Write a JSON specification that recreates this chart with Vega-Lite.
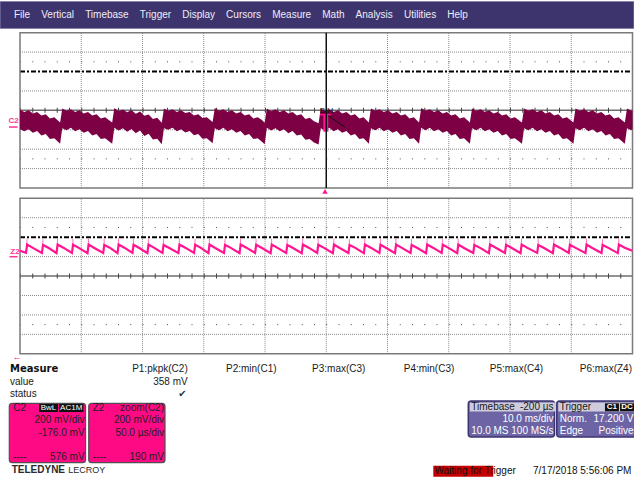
{
"$schema":"https://vega.github.io/schema/vega-lite/v6.json",
"width":634,"height":480,"padding":0,"autosize":{"type":"none"},"background":"white",
"config":{"view":{"stroke":null},"axis":{"disable":true},"legend":{"disable":true},"text":{"font":"Liberation Sans","fontSize":10,"baseline":"middle"}},
"data":{"values":[{}]},
"datasets":{
"c2":[{"t":-50,"hi":0.04,"lo":-0.98},{"t":-49.3,"hi":-0.08,"lo":-1.08},{"t":-48.6,"hi":0,"lo":-0.98},{"t":-47.9,"hi":-0.16,"lo":-1.16},{"t":-47.2,"hi":-0.08,"lo":-1.06},{"t":-46.5,"hi":-0.26,"lo":-1.3},{"t":-45.8,"hi":-0.2,"lo":-1.22},{"t":-45.1,"hi":-0.42,"lo":-1.48},{"t":-44.4,"hi":-0.36,"lo":-1.44},{"t":-43.45,"hi":-0.62,"lo":-1.72},
{"t":-43.1,"hi":0.1,"lo":-0.92},{"t":-42.4,"hi":-0.02,"lo":-1.02},{"t":-41.7,"hi":0.06,"lo":-0.9},{"t":-41,"hi":-0.08,"lo":-1.08},{"t":-40.3,"hi":0,"lo":-0.98},{"t":-39.6,"hi":-0.16,"lo":-1.16},{"t":-38.9,"hi":-0.08,"lo":-1.06},{"t":-38.2,"hi":-0.26,"lo":-1.3},{"t":-37.5,"hi":-0.2,"lo":-1.22},{"t":-36.8,"hi":-0.42,"lo":-1.48},{"t":-36.1,"hi":-0.36,"lo":-1.44},{"t":-34.95,"hi":-0.62,"lo":-1.72},
{"t":-34.6,"hi":0.12,"lo":-0.9},{"t":-33.9,"hi":-0.04,"lo":-1.04},{"t":-33.2,"hi":0.04,"lo":-0.92},{"t":-32.5,"hi":-0.1,"lo":-1.1},{"t":-31.8,"hi":0.02,"lo":-0.96},{"t":-31.1,"hi":-0.18,"lo":-1.18},{"t":-30.4,"hi":-0.06,"lo":-1.04},{"t":-29.7,"hi":-0.28,"lo":-1.32},{"t":-29,"hi":-0.22,"lo":-1.2},{"t":-28.3,"hi":-0.44,"lo":-1.5},{"t":-27.6,"hi":-0.38,"lo":-1.46},{"t":-26.85,"hi":-0.64,"lo":-1.74},
{"t":-26.5,"hi":0.1,"lo":-0.92},{"t":-25.8,"hi":-0.02,"lo":-1},{"t":-25.1,"hi":0.06,"lo":-0.9},{"t":-24.4,"hi":-0.08,"lo":-1.08},{"t":-23.7,"hi":0,"lo":-0.98},{"t":-23,"hi":-0.14,"lo":-1.14},{"t":-22.3,"hi":-0.08,"lo":-1.06},{"t":-21.6,"hi":-0.26,"lo":-1.28},{"t":-20.9,"hi":-0.2,"lo":-1.22},{"t":-20.2,"hi":-0.4,"lo":-1.46},{"t":-19.5,"hi":-0.36,"lo":-1.44},{"t":-18.55,"hi":-0.6,"lo":-1.7},
{"t":-18.2,"hi":0.12,"lo":-0.92},{"t":-17.5,"hi":-0.02,"lo":-1.02},{"t":-16.8,"hi":0.06,"lo":-0.9},{"t":-16.1,"hi":-0.08,"lo":-1.08},{"t":-15.4,"hi":0,"lo":-0.98},{"t":-14.7,"hi":-0.16,"lo":-1.16},{"t":-14,"hi":-0.08,"lo":-1.06},{"t":-13.3,"hi":-0.26,"lo":-1.3},{"t":-12.6,"hi":-0.2,"lo":-1.22},{"t":-11.9,"hi":-0.42,"lo":-1.48},{"t":-11.2,"hi":-0.36,"lo":-1.44},{"t":-10.5,"hi":-0.5,"lo":-1.62},{"t":-10.05,"hi":-0.64,"lo":-1.74},
{"t":-9.7,"hi":0.1,"lo":-0.9},{"t":-9,"hi":-0.04,"lo":-1.04},{"t":-8.3,"hi":0.06,"lo":-0.92},{"t":-7.6,"hi":-0.08,"lo":-1.08},{"t":-6.9,"hi":0,"lo":-0.98},{"t":-6.2,"hi":-0.16,"lo":-1.18},{"t":-5.5,"hi":-0.08,"lo":-1.06},{"t":-4.8,"hi":-0.26,"lo":-1.3},{"t":-4.1,"hi":-0.2,"lo":-1.24},{"t":-3.4,"hi":-0.44,"lo":-1.52},{"t":-2.7,"hi":-0.38,"lo":-1.48},{"t":-2,"hi":-0.56,"lo":-1.66},{"t":-1.25,"hi":-0.66,"lo":-1.76},
{"t":-0.9,"hi":0.1,"lo":-0.92},{"t":-0.2,"hi":-0.02,"lo":-1.02},{"t":0.5,"hi":0.06,"lo":-0.9},{"t":1.2,"hi":-0.08,"lo":-1.08},{"t":1.9,"hi":0,"lo":-0.98},{"t":2.6,"hi":-0.16,"lo":-1.16},{"t":3.3,"hi":-0.08,"lo":-1.06},{"t":4,"hi":-0.26,"lo":-1.3},{"t":4.7,"hi":-0.2,"lo":-1.22},{"t":5.4,"hi":-0.42,"lo":-1.48},{"t":6.1,"hi":-0.36,"lo":-1.44},{"t":6.95,"hi":-0.62,"lo":-1.72},
{"t":7.3,"hi":0.1,"lo":-0.92},{"t":8,"hi":-0.02,"lo":-1.02},{"t":8.7,"hi":0.06,"lo":-0.9},{"t":9.4,"hi":-0.08,"lo":-1.08},{"t":10.1,"hi":0,"lo":-0.98},{"t":10.8,"hi":-0.16,"lo":-1.16},{"t":11.5,"hi":-0.08,"lo":-1.06},{"t":12.2,"hi":-0.26,"lo":-1.3},{"t":12.9,"hi":-0.2,"lo":-1.22},{"t":13.6,"hi":-0.42,"lo":-1.48},{"t":14.3,"hi":-0.36,"lo":-1.44},{"t":15.15,"hi":-0.62,"lo":-1.72},
{"t":15.5,"hi":0.12,"lo":-0.9},{"t":16.2,"hi":-0.02,"lo":-1.02},{"t":16.9,"hi":0.06,"lo":-0.9},{"t":17.6,"hi":-0.08,"lo":-1.08},{"t":18.3,"hi":0,"lo":-0.98},{"t":19,"hi":-0.16,"lo":-1.16},{"t":19.7,"hi":-0.08,"lo":-1.06},{"t":20.4,"hi":-0.26,"lo":-1.3},{"t":21.1,"hi":-0.2,"lo":-1.22},{"t":21.8,"hi":-0.42,"lo":-1.48},{"t":22.5,"hi":-0.36,"lo":-1.44},{"t":23.45,"hi":-0.62,"lo":-1.72},
{"t":23.8,"hi":0.1,"lo":-0.92},{"t":24.5,"hi":-0.02,"lo":-1.02},{"t":25.2,"hi":0.06,"lo":-0.9},{"t":25.9,"hi":-0.08,"lo":-1.08},{"t":26.6,"hi":0,"lo":-0.98},{"t":27.3,"hi":-0.16,"lo":-1.16},{"t":28,"hi":-0.08,"lo":-1.06},{"t":28.7,"hi":-0.26,"lo":-1.3},{"t":29.4,"hi":-0.2,"lo":-1.22},{"t":30.1,"hi":-0.42,"lo":-1.48},{"t":30.8,"hi":-0.36,"lo":-1.44},{"t":31.95,"hi":-0.62,"lo":-1.72},
{"t":32.3,"hi":0.1,"lo":-0.92},{"t":33,"hi":-0.02,"lo":-1.02},{"t":33.7,"hi":0.06,"lo":-0.9},{"t":34.4,"hi":-0.08,"lo":-1.08},{"t":35.1,"hi":0,"lo":-0.98},{"t":35.8,"hi":-0.16,"lo":-1.16},{"t":36.5,"hi":-0.08,"lo":-1.06},{"t":37.2,"hi":-0.26,"lo":-1.3},{"t":37.9,"hi":-0.2,"lo":-1.22},{"t":38.6,"hi":-0.42,"lo":-1.48},{"t":39.3,"hi":-0.36,"lo":-1.44},{"t":40.35,"hi":-0.62,"lo":-1.72},
{"t":40.7,"hi":0.1,"lo":-0.92},{"t":41.4,"hi":-0.02,"lo":-1.02},{"t":42.1,"hi":0.06,"lo":-0.9},{"t":42.8,"hi":-0.08,"lo":-1.08},{"t":43.5,"hi":0,"lo":-0.98},{"t":44.2,"hi":-0.16,"lo":-1.16},{"t":44.9,"hi":-0.08,"lo":-1.06},{"t":45.6,"hi":-0.26,"lo":-1.3},{"t":46.3,"hi":-0.2,"lo":-1.22},{"t":47,"hi":-0.42,"lo":-1.48},{"t":47.7,"hi":-0.36,"lo":-1.44},{"t":48.75,"hi":-0.62,"lo":-1.72},
{"t":49.1,"hi":0.1,"lo":-0.92},{"t":49.8,"hi":-0.02,"lo":-1.02},{"t":50,"hi":0.02,"lo":-0.96}],
"z2":[{"t":-250,"v":1.3},{"t":-245.1,"v":1.2},{"t":-244.2,"v":1.62},{"t":-239.5,"v":1.45},{"t":-232.1,"v":1.19},{"t":-231.2,"v":1.6},{"t":-226.5,"v":1.44},{"t":-220.2,"v":1.18},{"t":-219.3,"v":1.62},{"t":-214.6,"v":1.46},{"t":-207.6,"v":1.19},{"t":-206.7,"v":1.61},{"t":-202,"v":1.45},{"t":-194.9,"v":1.18},{"t":-194,"v":1.62},{"t":-189.3,"v":1.44},{"t":-182.1,"v":1.19},{"t":-181.2,"v":1.6},{"t":-176.5,"v":1.45},{"t":-170.4,"v":1.18},{"t":-169.5,"v":1.62},{"t":-164.8,"v":1.46},{"t":-158.2,"v":1.19},{"t":-157.3,"v":1.61},{"t":-152.6,"v":1.44},{"t":-146,"v":1.18},{"t":-145.1,"v":1.62},{"t":-140.4,"v":1.45},{"t":-133.7,"v":1.19},{"t":-132.8,"v":1.6},{"t":-128.1,"v":1.44},{"t":-120.7,"v":1.18},{"t":-119.8,"v":1.62},{"t":-115.1,"v":1.46},{"t":-107.9,"v":1.19},{"t":-107,"v":1.61},{"t":-102.3,"v":1.45},{"t":-96.2,"v":1.18},{"t":-95.3,"v":1.62},{"t":-90.6,"v":1.44},{"t":-83.5,"v":1.19},{"t":-82.6,"v":1.6},{"t":-77.9,"v":1.45},{"t":-70.8,"v":1.18},{"t":-69.9,"v":1.62},{"t":-65.2,"v":1.46},{"t":-58.1,"v":1.19},{"t":-57.2,"v":1.61},{"t":-52.5,"v":1.44},{"t":-45.4,"v":1.18},{"t":-44.5,"v":1.62},{"t":-39.8,"v":1.45},{"t":-32.7,"v":1.19},{"t":-31.8,"v":1.6},{"t":-27.1,"v":1.44},{"t":-20,"v":1.18},{"t":-19.1,"v":1.62},{"t":-14.4,"v":1.46},{"t":-7.4,"v":1.19},{"t":-6.5,"v":1.61},{"t":-1.8,"v":1.45},{"t":5.4,"v":1.18},{"t":6.3,"v":1.62},{"t":11,"v":1.44},{"t":18.1,"v":1.19},{"t":19,"v":1.6},{"t":23.7,"v":1.45},{"t":30.7,"v":1.18},{"t":31.6,"v":1.62},{"t":36.3,"v":1.46},{"t":43.4,"v":1.19},{"t":44.3,"v":1.61},{"t":49,"v":1.44},{"t":56.1,"v":1.18},{"t":57,"v":1.62},{"t":61.7,"v":1.45},{"t":68.8,"v":1.19},{"t":69.7,"v":1.6},{"t":74.4,"v":1.44},{"t":81.5,"v":1.18},{"t":82.4,"v":1.62},{"t":87.1,"v":1.46},{"t":94.2,"v":1.19},{"t":95.1,"v":1.61},{"t":99.8,"v":1.45},{"t":106.9,"v":1.18},{"t":107.8,"v":1.62},{"t":112.5,"v":1.44},{"t":120,"v":1.19},{"t":120.9,"v":1.6},{"t":125.6,"v":1.45},{"t":132.8,"v":1.18},{"t":133.7,"v":1.62},{"t":138.4,"v":1.46},{"t":145.9,"v":1.19},{"t":146.8,"v":1.61},{"t":151.5,"v":1.44},{"t":158.6,"v":1.18},{"t":159.5,"v":1.62},{"t":164.2,"v":1.45},{"t":172.2,"v":1.19},{"t":173.1,"v":1.6},{"t":177.8,"v":1.44},{"t":185,"v":1.18},{"t":185.9,"v":1.62},{"t":190.6,"v":1.46},{"t":198,"v":1.19},{"t":198.9,"v":1.61},{"t":203.6,"v":1.45},{"t":211.6,"v":1.18},{"t":212.5,"v":1.62},{"t":217.2,"v":1.44},{"t":224.7,"v":1.19},{"t":225.6,"v":1.6},{"t":230.3,"v":1.45},{"t":238,"v":1.18},{"t":238.9,"v":1.62},{"t":243.6,"v":1.46},{"t":250,"v":1.3}],
"z2pk":[{"t":-244.3,"top":1.92},{"t":-231.3,"top":1.9},{"t":-219.4,"top":1.93},{"t":-206.8,"top":1.91},{"t":-194.1,"top":1.92},{"t":-181.3,"top":1.9},{"t":-169.6,"top":1.93},{"t":-157.4,"top":1.91},{"t":-145.2,"top":1.92},{"t":-132.9,"top":1.9},{"t":-119.9,"top":1.93},{"t":-107.1,"top":1.91},{"t":-95.4,"top":1.92},{"t":-82.7,"top":1.9},{"t":-70,"top":1.93},{"t":-57.3,"top":1.91},{"t":-44.6,"top":1.92},{"t":-31.9,"top":1.9},{"t":-19.2,"top":1.93},{"t":-6.6,"top":1.91},{"t":6.2,"top":1.92},{"t":18.9,"top":1.9},{"t":31.5,"top":1.93},{"t":44.2,"top":1.91},{"t":56.9,"top":1.92},{"t":69.6,"top":1.9},{"t":82.3,"top":1.93},{"t":95,"top":1.91},{"t":107.7,"top":1.92},{"t":120.8,"top":1.9},{"t":133.6,"top":1.93},{"t":146.7,"top":1.91},{"t":159.4,"top":1.92},{"t":173,"top":1.9},{"t":185.8,"top":1.93},{"t":198.8,"top":1.91},{"t":212.4,"top":1.92},{"t":225.5,"top":1.9},{"t":238.8,"top":1.93}]
},
"resolve":{"scale":{"x":"independent","y":"independent"}},
"layer":[
{"data":{"values":[{"bar":"menu","label":"File\u00a0\u00a0\u00a0\u00a0Vertical\u00a0\u00a0\u00a0\u00a0Timebase\u00a0\u00a0\u00a0\u00a0Trigger\u00a0\u00a0\u00a0\u00a0Display\u00a0\u00a0\u00a0\u00a0Cursors\u00a0\u00a0\u00a0\u00a0Measure\u00a0\u00a0\u00a0\u00a0Math\u00a0\u00a0\u00a0\u00a0Analysis\u00a0\u00a0\u00a0\u00a0Utilities\u00a0\u00a0\u00a0\u00a0Help"}]},
 "layer":[
  {"mark":{"type":"rect","color":"#3d336d","stroke":"#8a83b0","strokeWidth":1},
   "encoding":{"y":{"field":"bar","type":"nominal","scale":{"type":"band","domain":["menu"],"range":[1.5,28.5],"paddingInner":0,"paddingOuter":0}}}},
  {"mark":{"type":"text","align":"left","baseline":"middle","color":"#eeeef6","fontSize":10},
   "encoding":{"x":{"field":"bar","type":"nominal","bandPosition":0,"scale":{"type":"band","domain":["menu"],"range":[14,634],"paddingInner":0,"paddingOuter":0}},
    "y":{"field":"bar","type":"nominal","bandPosition":0.5,"scale":{"type":"band","domain":["menu"],"range":[1.5,28.5],"paddingInner":0,"paddingOuter":0}},
    "text":{"field":"label"}}}
 ]},
{"layer":[
  {"data":{"values":[{"t":-40},{"t":-30},{"t":-20},{"t":-10},{"t":10},{"t":20},{"t":30},{"t":40}]},
   "mark":{"type":"rule","color":"#8a8a8a","strokeDash":[1,1],"strokeWidth":1},
   "encoding":{"x":{"field":"t","type":"quantitative","scale":{"domain":[-50,50],"range":[20,632.5],"nice":false,"zero":false}},"y":{"datum":-4,"type":"quantitative","scale":{"domain":[-4,4],"range":[188,32.7],"nice":false,"zero":false}},"y2":{"datum":4}}},
  {"data":{"values":[{"d":3},{"d":1},{"d":-1},{"d":-2},{"d":-3}]},
   "mark":{"type":"rule","color":"#8a8a8a","strokeDash":[1,1],"strokeWidth":1},
   "encoding":{"y":{"field":"d","type":"quantitative","scale":{"domain":[-4,4],"range":[188,32.7],"nice":false,"zero":false}},"x":{"datum":-50,"type":"quantitative","scale":{"domain":[-50,50],"range":[20,632.5],"nice":false,"zero":false}},"x2":{"datum":50}}},
  {"data":{"values":[{"d":2.5},{"d":-2.5}]},
   "mark":{"type":"rule","color":"#555555","strokeDash":[1,11.25],"strokeWidth":1},
   "encoding":{"y":{"field":"d","type":"quantitative"},"x":{"datum":-50,"type":"quantitative"},"x2":{"datum":50}}},
  {"mark":{"type":"rule","color":"#000000","strokeDash":[5,2,2,2],"strokeWidth":2},
   "encoding":{"y":{"datum":2,"type":"quantitative"},"x":{"datum":-50,"type":"quantitative"},"x2":{"datum":50}}},
  {"mark":{"type":"rule","color":"#6e6e6e","strokeWidth":1.5},
   "encoding":{"y":{"datum":0,"type":"quantitative"},"x":{"datum":-50,"type":"quantitative"},"x2":{"datum":50}}},
  {"mark":{"type":"rule","color":"#444444","strokeDash":[1,11.25],"strokeWidth":5},
   "encoding":{"y":{"datum":0,"type":"quantitative"},"x":{"datum":-50,"type":"quantitative"},"x2":{"datum":50}}},
  {"mark":{"type":"rect","fillOpacity":0,"stroke":"#7a7a7a","strokeWidth":1.5},
   "encoding":{"x":{"datum":-50,"type":"quantitative"},"x2":{"datum":50},"y":{"datum":-4,"type":"quantitative"},"y2":{"datum":4}}},
  {"data":{"name":"c2"},"mark":{"type":"area","color":"#7d0045","opacity":1},
   "encoding":{"x":{"field":"t","type":"quantitative"},"y":{"field":"hi","type":"quantitative"},"y2":{"field":"lo"}}},
  {"mark":{"type":"text","text":"C2","color":"#ff3399","fontSize":8,"fontWeight":"bold","align":"center"},
   "encoding":{"x":{"datum":-51.06,"type":"quantitative"},"y":{"datum":-0.57,"type":"quantitative"}}},
  {"mark":{"type":"rule","color":"#ff3399","strokeWidth":1.5},
   "encoding":{"x":{"datum":-51.8,"type":"quantitative"},"x2":{"datum":-50.4},"y":{"datum":-0.86,"type":"quantitative"}}},
  {"mark":{"type":"point","shape":"triangle-up","filled":true,"size":30,"color":"#ff1493","opacity":1},
   "encoding":{"x":{"datum":-0.2,"type":"quantitative"},"y":{"datum":-4.18,"type":"quantitative"}}},
  {"mark":{"type":"rect","color":"#ff1493"},
   "encoding":{"x":{"datum":-0.48,"type":"quantitative"},"x2":{"datum":0.33},"y":{"datum":-0.24,"type":"quantitative"},"y2":{"datum":-1.1}}},
  {"mark":{"type":"rule","color":"#ff1493","strokeWidth":1.5},
   "encoding":{"x":{"datum":-1.02,"type":"quantitative"},"x2":{"datum":0.73},"y":{"datum":-0.22,"type":"quantitative"}}},
  {"mark":{"type":"rule","color":"#111111","strokeWidth":1},
   "encoding":{"x":{"datum":0.33,"type":"quantitative"},"x2":{"datum":3.06},"y":{"datum":-0.28,"type":"quantitative"},"y2":{"datum":-0.87}}},
  {"mark":{"type":"rule","color":"#111111","strokeWidth":1.5},
   "encoding":{"x":{"datum":0,"type":"quantitative"},"y":{"datum":-4,"type":"quantitative"},"y2":{"datum":4}}},
  {"mark":{"type":"text","text":"B H","color":"#111111","fontSize":8,"align":"center"},
   "encoding":{"x":{"datum":0.04,"type":"quantitative"},"y":{"datum":-0.02,"type":"quantitative"}}}
 ]},
{"layer":[
  {"data":{"values":[{"t":-200},{"t":-150},{"t":-100},{"t":-50},{"t":0},{"t":50},{"t":100},{"t":150},{"t":200}]},
   "mark":{"type":"rule","color":"#8a8a8a","strokeDash":[1,1],"strokeWidth":1},
   "encoding":{"x":{"field":"t","type":"quantitative","scale":{"domain":[-250,250],"range":[20,632.5],"nice":false,"zero":false}},"y":{"datum":-4,"type":"quantitative","scale":{"domain":[-4,4],"range":[353.8,198.3],"nice":false,"zero":false}},"y2":{"datum":4}}},
  {"data":{"values":[{"d":3},{"d":1},{"d":-1},{"d":-2},{"d":-3}]},
   "mark":{"type":"rule","color":"#8a8a8a","strokeDash":[1,1],"strokeWidth":1},
   "encoding":{"y":{"field":"d","type":"quantitative"},"x":{"datum":-250,"type":"quantitative"},"x2":{"datum":250}}},
  {"data":{"values":[{"d":2.5},{"d":-2.5}]},
   "mark":{"type":"rule","color":"#555555","strokeDash":[1,11.25],"strokeWidth":1},
   "encoding":{"y":{"field":"d","type":"quantitative"},"x":{"datum":-250,"type":"quantitative"},"x2":{"datum":250}}},
  {"mark":{"type":"rule","color":"#000000","strokeDash":[5,2,2,2],"strokeWidth":2},
   "encoding":{"y":{"datum":2,"type":"quantitative"},"x":{"datum":-250,"type":"quantitative"},"x2":{"datum":250}}},
  {"mark":{"type":"rule","color":"#6e6e6e","strokeWidth":1.5},
   "encoding":{"y":{"datum":0,"type":"quantitative"},"x":{"datum":-250,"type":"quantitative"},"x2":{"datum":250}}},
  {"mark":{"type":"rule","color":"#444444","strokeDash":[1,11.25],"strokeWidth":5},
   "encoding":{"y":{"datum":0,"type":"quantitative"},"x":{"datum":-250,"type":"quantitative"},"x2":{"datum":250}}},
  {"mark":{"type":"rect","fillOpacity":0,"stroke":"#7a7a7a","strokeWidth":1.5},
   "encoding":{"x":{"datum":-250,"type":"quantitative"},"x2":{"datum":250},"y":{"datum":-4,"type":"quantitative"},"y2":{"datum":4}}},
  {"data":{"name":"z2pk"},"mark":{"type":"rule","color":"#ff77bb","strokeWidth":1},
   "encoding":{"x":{"field":"t","type":"quantitative"},"y":{"field":"top","type":"quantitative"},"y2":{"datum":1.5}}},
  {"data":{"name":"z2"},"mark":{"type":"line","color":"#ff1493","strokeWidth":2.2},
   "encoding":{"x":{"field":"t","type":"quantitative"},"y":{"field":"v","type":"quantitative"}}},
  {"mark":{"type":"text","text":"Z2","color":"#ff3399","fontSize":8,"fontWeight":"bold","align":"center"},
   "encoding":{"x":{"datum":-254.1,"type":"quantitative"},"y":{"datum":1.26,"type":"quantitative"}}},
  {"mark":{"type":"rule","color":"#ff3399","strokeWidth":1.5},
   "encoding":{"x":{"datum":-258.6,"type":"quantitative"},"x2":{"datum":-252},"y":{"datum":0.995,"type":"quantitative"}}},
  {"mark":{"type":"text","text":"←","color":"#ff1493","fontSize":9,"fontWeight":"bold","align":"center"},
   "encoding":{"x":{"datum":-252.4,"type":"quantitative"},"y":{"datum":-4.19,"type":"quantitative"}}}
 ]},
{"layer":[
  {"data":{"values":[{"col":"Measure","row":"h","txt":"Measure"}]},
   "mark":{"type":"text","align":"left","font":"DejaVu Sans","fontWeight":"bold","fontSize":10,"color":"#111111"},
   "encoding":{"x":{"field":"col","type":"nominal","bandPosition":0,"scale":{"type":"band","domain":["Measure","P1","P2","P3","P4","P5","P6"],"range":[10,632],"paddingInner":0,"paddingOuter":0}},
    "y":{"field":"row","type":"nominal","scale":{"type":"point","domain":["h","v","s"],"range":[369,394.3],"padding":0}},"text":{"field":"txt"}}},
  {"data":{"values":[{"col":"Measure","row":"v","txt":"value"},{"col":"Measure","row":"s","txt":"status"}]},
   "mark":{"type":"text","align":"left","fontSize":10,"color":"#1a1a1a"},
   "encoding":{"x":{"field":"col","type":"nominal","bandPosition":0},"y":{"field":"row","type":"nominal"},"text":{"field":"txt"}}},
  {"data":{"values":[{"col":"P1","row":"h","txt":"P1:pkpk(C2)"},{"col":"P2","row":"h","txt":"P2:min(C1)"},{"col":"P3","row":"h","txt":"P3:max(C3)"},{"col":"P4","row":"h","txt":"P4:min(C3)"},{"col":"P5","row":"h","txt":"P5:max(C4)"},{"col":"P6","row":"h","txt":"P6:max(Z4)"},{"col":"P1","row":"v","txt":"358 mV"}]},
   "mark":{"type":"text","align":"right","fontSize":10,"color":"#1a1a1a"},
   "encoding":{"x":{"field":"col","type":"nominal","bandPosition":1},"y":{"field":"row","type":"nominal"},"text":{"field":"txt"}}},
  {"data":{"values":[{"col":"P1","row":"s","txt":"✔"}]},
   "mark":{"type":"text","align":"right","font":"DejaVu Sans","fontSize":10,"color":"#333333","dx":-1},
   "encoding":{"x":{"field":"col","type":"nominal","bandPosition":1},"y":{"field":"row","type":"nominal"},"text":{"field":"txt"}}}
 ]},
{"resolve":{"scale":{"y":"independent"}},
 "layer":[
  {"data":{"values":[{"box":"C2","k":"b"},{"box":"Z2","k":"b"}]},
   "mark":{"type":"rect","color":"#fe0a84","stroke":"#505050","strokeWidth":1.2,"cornerRadius":3},
   "encoding":{"x":{"field":"box","type":"nominal","scale":{"type":"band","domain":["C2","Z2"],"range":[9.3,165],"paddingInner":0.04,"paddingOuter":0}},
    "y":{"field":"k","type":"nominal","scale":{"type":"band","domain":["b"],"range":[403.3,462.7],"paddingInner":0,"paddingOuter":0}}}},
  {"data":{"values":[{"box":"C2","row":"r1","txt":"C2"},{"box":"C2","row":"r5","txt":"----"},{"box":"Z2","row":"r1","txt":"Z2"},{"box":"Z2","row":"r5","txt":"----"}]},
   "mark":{"type":"text","align":"left","dx":4,"fontSize":10,"color":"#1e1e1e"},
   "encoding":{"x":{"field":"box","type":"nominal","bandPosition":0},"y":{"field":"row","type":"nominal","scale":{"type":"point","domain":["r1","r2","r3","r4","r5"],"range":[408,457.3],"padding":0}},"text":{"field":"txt"}}},
  {"data":{"values":[{"box":"C2","row":"r2","txt":"200 mV/div"},{"box":"C2","row":"r3","txt":"-176.0 mV"},{"box":"C2","row":"r5","txt":"576 mV"},{"box":"Z2","row":"r1","txt":"zoom(C2)"},{"box":"Z2","row":"r2","txt":"200 mV/div"},{"box":"Z2","row":"r3","txt":"50.0 µs/div"},{"box":"Z2","row":"r5","txt":"190 mV"}]},
   "mark":{"type":"text","align":"right","dx":-1,"fontSize":10,"color":"#1e1e1e"},
   "encoding":{"x":{"field":"box","type":"nominal","bandPosition":1},"y":{"field":"row","type":"nominal","scale":{"type":"point","domain":["r1","r2","r3","r4","r5"],"range":[408,457.3],"padding":0}},"text":{"field":"txt"}}},
  {"data":{"values":[{"box":"C2","row":"r1","txt":"BwL"}]},
   "mark":{"type":"point","shape":"M-1,-0.42H1V0.42H-1Z","size":361,"filled":true,"color":"#111111","opacity":1},
   "encoding":{"x":{"field":"box","type":"nominal","bandPosition":0.514},"y":{"field":"row","type":"nominal","scale":{"type":"point","domain":["r1","r2","r3","r4","r5"],"range":[408,457.3],"padding":0}}}},
  {"data":{"values":[{"box":"C2","row":"r1","txt":"BwL"}]},
   "mark":{"type":"text","align":"center","fontSize":8,"color":"#ffffff"},
   "encoding":{"x":{"field":"box","type":"nominal","bandPosition":0.514},"y":{"field":"row","type":"nominal","scale":{"type":"point","domain":["r1","r2","r3","r4","r5"],"range":[408,457.3],"padding":0}},"text":{"field":"txt"}}},
  {"data":{"values":[{"box":"C2","row":"r1","txt":"AC1M"}]},
   "mark":{"type":"point","shape":"M-1,-0.33H1V0.33H-1Z","size":600,"filled":true,"color":"#111111","opacity":1},
   "encoding":{"x":{"field":"box","type":"nominal","bandPosition":0.812},"y":{"field":"row","type":"nominal","scale":{"type":"point","domain":["r1","r2","r3","r4","r5"],"range":[408,457.3],"padding":0}}}},
  {"data":{"values":[{"box":"C2","row":"r1","txt":"AC1M"}]},
   "mark":{"type":"text","align":"center","fontSize":8,"color":"#ffffff"},
   "encoding":{"x":{"field":"box","type":"nominal","bandPosition":0.812},"y":{"field":"row","type":"nominal","scale":{"type":"point","domain":["r1","r2","r3","r4","r5"],"range":[408,457.3],"padding":0}},"text":{"field":"txt"}}}
 ]},
{"resolve":{"scale":{"y":"independent"}},
 "layer":[
  {"data":{"values":[{"box":"TB","k":"b"},{"box":"TR","k":"b"}]},
   "mark":{"type":"rect","color":"#6c64a4","stroke":"#3b3470","strokeWidth":1.5,"cornerRadius":3},
   "encoding":{"x":{"field":"box","type":"nominal","scale":{"type":"band","domain":["TB","TR"],"range":[468.3,643],"paddingInner":0.025,"paddingOuter":0}},
    "y":{"field":"k","type":"nominal","scale":{"type":"band","domain":["b"],"range":[401,437],"paddingInner":0,"paddingOuter":0}}}},
  {"data":{"values":[{"box":"TB","k":"h"},{"box":"TR","k":"h"}]},
   "mark":{"type":"rect","color":"#cfcddb","xOffset":1.5,"x2Offset":-1.5},
   "encoding":{"x":{"field":"box","type":"nominal"},
    "y":{"field":"k","type":"nominal","scale":{"type":"band","domain":["h"],"range":[402.5,411.5],"paddingInner":0,"paddingOuter":0}}}},
  {"data":{"values":[{"box":"TB","row":"hdr","txt":"Timebase"},{"box":"TR","row":"hdr","txt":"Trigger"}]},
   "mark":{"type":"text","align":"left","dx":3,"fontSize":10,"color":"#1a1a1a"},
   "encoding":{"x":{"field":"box","type":"nominal","bandPosition":0},"y":{"field":"row","type":"nominal","scale":{"type":"point","domain":["hdr","r2","r3"],"range":[407.3,430.5],"padding":0}},"text":{"field":"txt"}}},
  {"data":{"values":[{"box":"TB","row":"hdr","txt":"-200 µs"}]},
   "mark":{"type":"text","align":"right","dx":-1,"fontSize":10,"color":"#1a1a1a"},
   "encoding":{"x":{"field":"box","type":"nominal","bandPosition":1},"y":{"field":"row","type":"nominal","scale":{"type":"point","domain":["hdr","r2","r3"],"range":[407.3,430.5],"padding":0}},"text":{"field":"txt"}}},
  {"data":{"values":[{"box":"TB","row":"r3","txt":"10.0 MS"},{"box":"TR","row":"r2","txt":"Norm."},{"box":"TR","row":"r3","txt":"Edge"}]},
   "mark":{"type":"text","align":"left","dx":3,"fontSize":10,"color":"#ffffff"},
   "encoding":{"x":{"field":"box","type":"nominal","bandPosition":0},"y":{"field":"row","type":"nominal","scale":{"type":"point","domain":["hdr","r2","r3"],"range":[407.3,430.5],"padding":0}},"text":{"field":"txt"}}},
  {"data":{"values":[{"box":"TB","row":"r2","txt":"10.0 ms/div"},{"box":"TB","row":"r3","txt":"100 MS/s"}]},
   "mark":{"type":"text","align":"right","dx":-1,"fontSize":10,"color":"#ffffff"},
   "encoding":{"x":{"field":"box","type":"nominal","bandPosition":1},"y":{"field":"row","type":"nominal","scale":{"type":"point","domain":["hdr","r2","r3"],"range":[407.3,430.5],"padding":0}},"text":{"field":"txt"}}},
  {"data":{"values":[{"box":"TR","row":"r2","txt":"17.200 V"},{"box":"TR","row":"r3","txt":"Positive"}]},
   "mark":{"type":"text","align":"right","dx":-9.5,"fontSize":10,"color":"#ffffff"},
   "encoding":{"x":{"field":"box","type":"nominal","bandPosition":1},"y":{"field":"row","type":"nominal","scale":{"type":"point","domain":["hdr","r2","r3"],"range":[407.3,430.5],"padding":0}},"text":{"field":"txt"}}},
  {"data":{"values":[{"box":"TR","row":"hdr","txt":"C1"}]},
   "mark":{"type":"point","shape":"M-1,-0.57H1V0.57H-1Z","size":196,"filled":true,"color":"#111111","opacity":1},
   "encoding":{"x":{"field":"box","type":"nominal","bandPosition":0.64},"y":{"field":"row","type":"nominal","scale":{"type":"point","domain":["hdr","r2","r3"],"range":[407.3,430.5],"padding":0}}}},
  {"data":{"values":[{"box":"TR","row":"hdr","txt":"C1"}]},
   "mark":{"type":"text","align":"center","fontSize":8,"fontWeight":"bold","color":"#ffffff"},
   "encoding":{"x":{"field":"box","type":"nominal","bandPosition":0.64},"y":{"field":"row","type":"nominal","scale":{"type":"point","domain":["hdr","r2","r3"],"range":[407.3,430.5],"padding":0}},"text":{"field":"txt"}}},
  {"data":{"values":[{"box":"TR","row":"hdr","txt":"DC"}]},
   "mark":{"type":"point","shape":"M-1,-0.57H1V0.57H-1Z","size":196,"filled":true,"color":"#111111","opacity":1},
   "encoding":{"x":{"field":"box","type":"nominal","bandPosition":0.815},"y":{"field":"row","type":"nominal","scale":{"type":"point","domain":["hdr","r2","r3"],"range":[407.3,430.5],"padding":0}}}},
  {"data":{"values":[{"box":"TR","row":"hdr","txt":"DC"}]},
   "mark":{"type":"text","align":"center","fontSize":8,"fontWeight":"bold","color":"#ffffff"},
   "encoding":{"x":{"field":"box","type":"nominal","bandPosition":0.815},"y":{"field":"row","type":"nominal","scale":{"type":"point","domain":["hdr","r2","r3"],"range":[407.3,430.5],"padding":0}},"text":{"field":"txt"}}}
 ]},
{"data":{"values":[{"k":"foot","brand1":"TELEDYNE","brand2":"LECROY","msg":"Waiting for Trigger","stamp":"7/17/2018 5:56:06 PM"}]},
 "layer":[
  {"mark":{"type":"rect","color":"#c40000"},
   "encoding":{"x":{"datum":1.748,"type":"quantitative","scale":{"domain":[-5,5],"range":[20,632.5],"nice":false,"zero":false}},"x2":{"datum":2.727},
    "y":{"field":"k","type":"nominal","scale":{"type":"band","domain":["foot"],"range":[465.7,476.7],"paddingInner":0,"paddingOuter":0}}}},
  {"mark":{"type":"text","align":"left","fontSize":10,"color":"#111111"},
   "encoding":{"x":{"datum":1.767,"type":"quantitative"},"y":{"field":"k","type":"nominal","bandPosition":0.5},"text":{"field":"msg"}}},
  {"mark":{"type":"text","align":"left","fontSize":10,"color":"#111111"},
   "encoding":{"x":{"datum":3.376,"type":"quantitative"},"y":{"field":"k","type":"nominal","bandPosition":0.5},"text":{"field":"stamp"}}},
  {"mark":{"type":"text","align":"left","fontSize":10,"fontWeight":"bold","color":"#2a2a2a","dy":-1},
   "encoding":{"x":{"datum":-5.1355,"type":"quantitative"},"y":{"field":"k","type":"nominal","bandPosition":0.5},"text":{"field":"brand1"}}},
  {"mark":{"type":"text","align":"left","fontSize":9,"color":"#2a2a2a","dy":-1},
   "encoding":{"x":{"datum":-4.211,"type":"quantitative"},"y":{"field":"k","type":"nominal","bandPosition":0.5},"text":{"field":"brand2"}}}
 ]}
]
}
